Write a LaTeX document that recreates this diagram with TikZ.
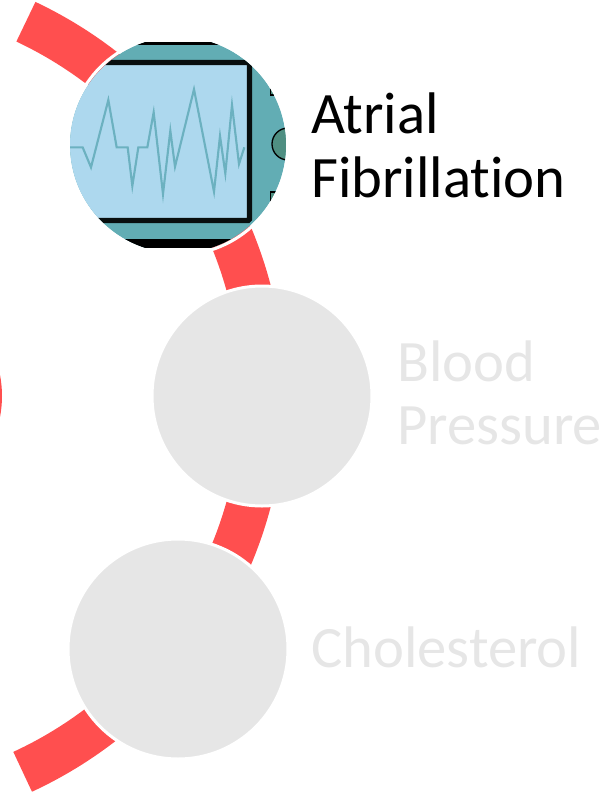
\documentclass[tikz,border=0pt]{standalone}
\usepackage{fontspec}
\setmainfont[Ligatures=NoCommon]{Carlito}
\definecolor{bandred}{HTML}{FF4F4F}
\definecolor{fadegray}{HTML}{E6E6E6}
\definecolor{monteal}{HTML}{62ADB4}
\definecolor{screenblue}{HTML}{ADD8EE}
\definecolor{knobgreen}{HTML}{4F8F82}
\definecolor{wavecol}{HTML}{6CB1C0}
\tikzset{
  disc/.style={circle,draw=white,line width=2.25pt,fill=fadegray,minimum size=165pt,inner sep=0pt},
  ringonly/.style={circle,draw=white,line width=2.25pt,minimum size=165pt,inner sep=0pt},
  lblon/.style={anchor=base west,inner sep=0pt,font=\fontsize{44}{48}\selectfont,text=black},
  lbloff/.style={anchor=base west,inner sep=0pt,font=\fontsize{44}{47}\selectfont,text=fadegray},
  band/.style={draw=bandred,line width=33pt}
}
\begin{document}
\begin{tikzpicture}[x=.75pt,y=-.75pt]
\useasboundingbox (0,0) rectangle (616,793);
% red arc (drawn in y-up coordinates)
\begin{scope}[shift={(0,793)},x=.75pt,y=.75pt]
  \draw[band] (-151,397) ++(64.7:414) arc[start angle=64.7,end angle=-65.2,radius=414];
  \fill[bandred] (-109,397) circle[radius=111];
\end{scope}
% monitor picture
\begin{scope}
  \clip (178,145) circle[radius=108];
  \clip (60,42) rectangle (300,247);
  \fill[monteal] (60,30) rectangle (300,260);
  \fill[black] (60,30) rectangle (300,45);
  \fill[black] (60,239) rectangle (300,260);
  \draw[line width=4pt,draw=black!92!monteal,fill=screenblue,rounded corners=1pt] (40,62.5) rectangle (249.5,220.5);
  \draw[black,line width=1pt,fill=knobgreen] (288,144) circle[radius=16];
  \draw[black,line width=1pt,fill=knobgreen] (270.5,78) rectangle (285,95);
  \draw[black,line width=1pt,fill=knobgreen] (270.5,192) rectangle (285,204);
  \begin{scope}[shift={(60,30)},x=.25pt,y=-.25pt]
    \draw[wavecol,line width=1.6pt,line join=miter]
      (30,352)--(68,352)--(93,412)--(145,210)--(170,352)--(203,352)--(217,468)--(235,352)--(262,352)--(281,247)--(309,492)--(331,302)--(345,410)--(402,178)--(462,485)--(480,318)--(496,430)--(516,225)--(537,402)--(553,352);
  \end{scope}
\end{scope}
\node[ringonly] (af) at (178,145) {};
\node[disc] (bp) at (262,396) {};
\node[disc] (ch) at (178,649) {};
\node[lblon] (afa) at (311,133) {Atrial};
\node[lblon] (afb) at (311,197) {Fibrillation};
\node[lbloff] (bpa) at (397,381) {Blood};
\node[lbloff] (bpb) at (397,444) {Pressure};
\node[lbloff] (cha) at (311,667) {Cholesterol};
\end{tikzpicture}
\end{document}
